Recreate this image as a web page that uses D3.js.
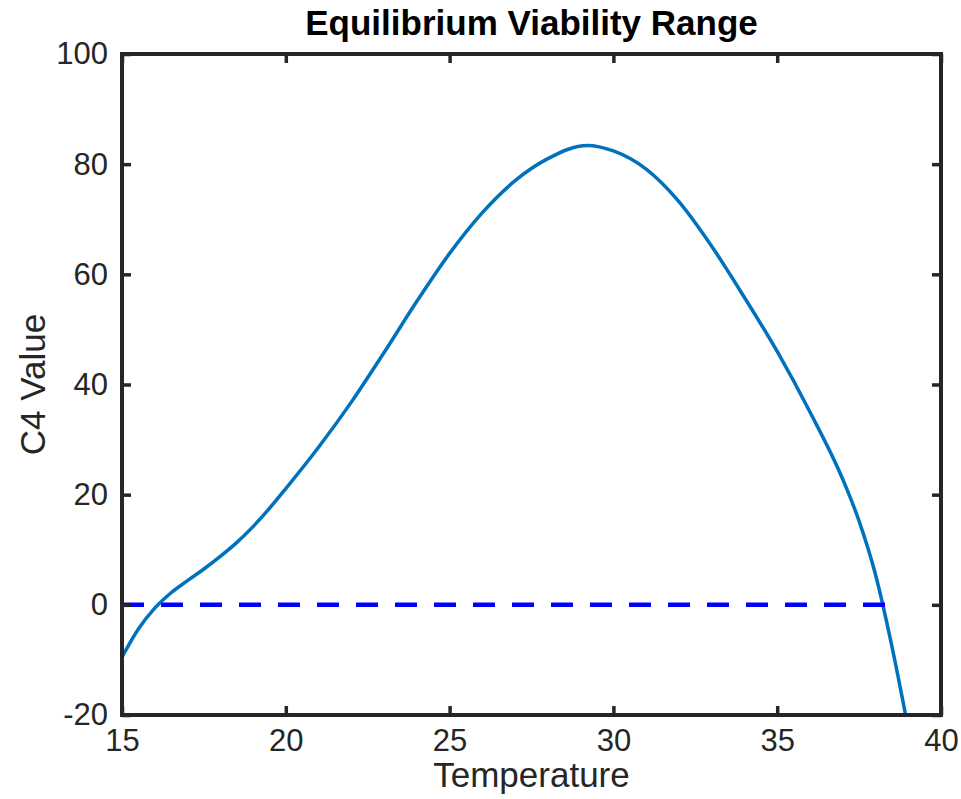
<!DOCTYPE html>
<html>
<head>
<meta charset="utf-8">
<script src="https://cdn.jsdelivr.net/npm/d3@7"></script>
<style>
  html, body { margin: 0; padding: 0; background: #fff; }
  svg text { font-family: "Liberation Sans", Arial, Helvetica, sans-serif; }
</style>
</head>
<body>
<svg id="chart" width="961" height="799"></svg>
<script>
// ---- data ----
const temperature = [15, 15.5, 16, 16.5, 17, 17.5, 18, 18.5, 19, 19.5, 20, 21, 22, 23, 24, 25, 26, 27, 28, 29.2, 30, 31, 32, 33, 34, 35, 36, 37, 37.5, 38, 38.5, 39];
const c4Value     = [-9.5, -4.4, -0.6, 2.2, 4.4, 6.5, 8.8, 11.3, 14.2, 17.5, 21.1, 28.6, 36.8, 45.8, 55.1, 63.8, 71.2, 77.0, 81.0, 83.4, 82.4, 79.1, 73.2, 65.1, 55.8, 46.0, 35.0, 22.8, 15.2, 5.5, -7.5, -22.5];
const zeroLineX = [15, 38.45];
const zeroLineY = [0, 0];
const xTicks = [15, 20, 25, 30, 35, 40];
const yTicks = [-20, 0, 20, 40, 60, 80, 100];
const titleText = "Equilibrium Viability Range";
const xLabel = "Temperature";
const yLabel = "C4 Value";

// ---- layout ----
const L = 122, R = 941, T = 54, B = 715;
const svg = d3.select("#chart");
const x = d3.scaleLinear().domain([15, 40]).range([L, R]);
const y = d3.scaleLinear().domain([-20, 100]).range([B, T]);
const axisColor = "#262626";
const fmt = d => String(d).replace("\u2212", "-");

const clipId = "plotclip";
svg.append("clipPath").attr("id", clipId)
  .append("rect").attr("x", L).attr("y", T).attr("width", R - L).attr("height", B - T);

const plot = svg.append("g").attr("clip-path", `url(#${clipId})`);

// curve
const pts = temperature.map((t, i) => [t, c4Value[i]]);
plot.append("path")
  .datum(pts)
  .attr("fill", "none")
  .attr("stroke", "#0072BD")
  .attr("stroke-width", 3.5)
  .attr("d", d3.line().x(d => x(d[0])).y(d => y(d[1])).curve(d3.curveMonotoneX));

// zero dashed line
const zpts = zeroLineX.map((t, i) => [t, zeroLineY[i]]);
plot.append("path")
  .datum(zpts)
  .attr("fill", "none")
  .attr("stroke", "#0000FF")
  .attr("stroke-width", 4.5)
  .attr("stroke-dasharray", "22,17")
  .attr("d", d3.line().x(d => x(d[0])).y(d => y(d[1])));

// axes
function styleAxis(g, showLabels) {
  g.select(".domain").remove();
  g.selectAll(".tick line").attr("stroke", axisColor).attr("stroke-width", 3.5);
  g.selectAll(".tick text")
    .attr("fill", axisColor)
    .style("font-size", "31px")
    .style("opacity", showLabels ? 1 : 0);
}
const tickLen = 9;
svg.append("g").attr("transform", `translate(0,${B})`)
  .call(d3.axisBottom(x).tickValues(xTicks).tickSizeInner(-tickLen).tickSizeOuter(0).tickPadding(14).tickFormat(fmt))
  .call(g => styleAxis(g, true));
svg.append("g").attr("transform", `translate(0,${T})`)
  .call(d3.axisTop(x).tickValues(xTicks).tickSizeInner(-tickLen).tickSizeOuter(0).tickFormat(""))
  .call(g => styleAxis(g, false));
svg.append("g").attr("transform", `translate(${L},0)`)
  .call(d3.axisLeft(y).tickValues(yTicks).tickSizeInner(-tickLen).tickSizeOuter(0).tickPadding(14).tickFormat(fmt))
  .call(g => styleAxis(g, true));
svg.append("g").attr("transform", `translate(${R},0)`)
  .call(d3.axisRight(y).tickValues(yTicks).tickSizeInner(-tickLen).tickSizeOuter(0).tickFormat(""))
  .call(g => styleAxis(g, false));

// frame
svg.append("rect")
  .attr("x", L).attr("y", T).attr("width", R - L).attr("height", B - T)
  .attr("fill", "none").attr("stroke", axisColor).attr("stroke-width", 4);

// title & labels
svg.append("text")
  .attr("x", (L + R) / 2).attr("y", 35)
  .attr("text-anchor", "middle")
  .style("font-size", "35px").style("font-weight", "bold").attr("fill", "#000")
  .text(titleText);
svg.append("text")
  .attr("x", (L + R) / 2).attr("y", 787)
  .attr("text-anchor", "middle")
  .style("font-size", "35px").attr("fill", axisColor)
  .text(xLabel);
svg.append("text")
  .attr("transform", `translate(45,${(T + B) / 2}) rotate(-90)`)
  .attr("text-anchor", "middle")
  .style("font-size", "35px").attr("fill", axisColor)
  .text(yLabel);
</script>
</body>
</html>
